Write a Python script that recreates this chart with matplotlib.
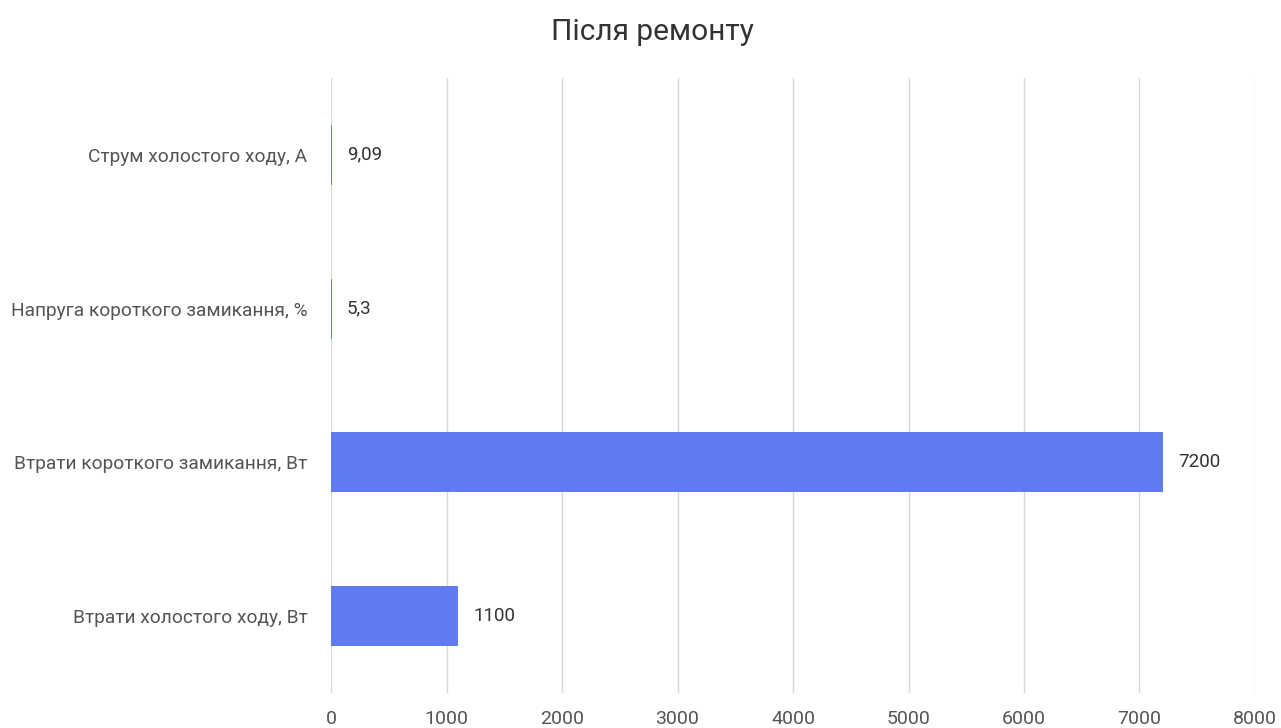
import matplotlib.pyplot as plt

categories = [
    "Струм холостого ходу, А",
    "Напруга короткого замикання, %",
    "Втрати короткого замикання, Вт",
    "Втрати холостого ходу, Вт",
]
values = [9.09, 5.3, 7200, 1100]
value_labels = ["9,09", "5,3", "7200", "1100"]
x_ticks = [0, 1000, 2000, 3000, 4000, 5000, 6000, 7000, 8000]

plt.rcParams['font.family'] = ['Roboto', 'DejaVu Sans']

fig = plt.figure(figsize=(12.81, 7.28), dpi=100)
ax = fig.add_axes([0.2584, 0.048, 0.7213, 0.8449])

pos = list(range(len(categories)))
ax.barh(pos, values, height=0.39, color="#607af0", linewidth=0, zorder=3)

for p, v, lab in zip(pos, values, value_labels):
    ax.annotate(lab, (v, p), xytext=(11, 0), textcoords="offset points",
                va="center", ha="left", fontsize=13.5, color="#333333")

ax.set_xlim(0, 8000)
ax.set_ylim(-0.5, 3.5)
ax.invert_yaxis()
ax.set_xticks(x_ticks)
ax.set_xticklabels([str(t) for t in x_ticks])
ax.set_yticks(pos)
ax.set_yticklabels(categories)
ax.tick_params(axis="x", length=0, pad=12, labelsize=14, labelcolor="#555555")
ax.tick_params(axis="y", length=0, pad=17, labelsize=13.8, labelcolor="#555555")
ax.grid(axis="x", color="#d9d9d9", linewidth=1, zorder=0)
for s in ax.spines.values():
    s.set_visible(False)

fig.text(0.509, 0.956, "Після ремонту", ha="center", va="center",
         fontsize=21.5, color="#333333")

fig.savefig("out.png", dpi=100)
